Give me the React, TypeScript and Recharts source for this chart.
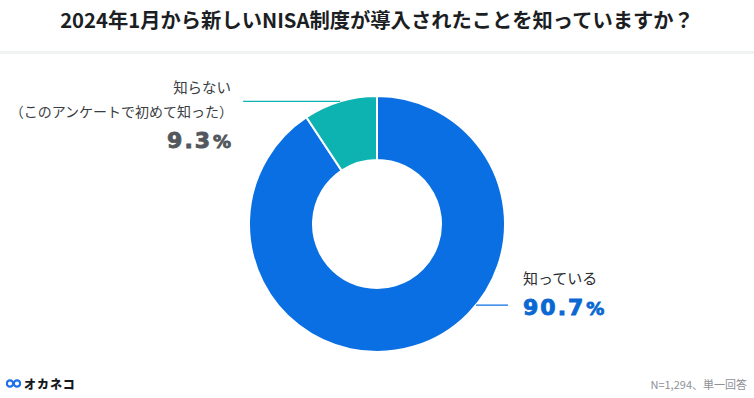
import React from "react";
import { PieChart, Pie, Cell } from "recharts";

const categories = ["知っている", "知らない"];
const subLabels = ["", "（このアンケートで初めて知った）"];
const values = [90.7, 9.3];
const colors = ["#0A6FE2", "#0DB3B1"];
const pctColors = ["#0B68D2", "#52575D"];

const title = "2024年1月から新しいNISA制度が導入されたことを知っていますか？";
const note = "N=1,294、単一回答";

const data = categories.map((name, i) => ({ name, value: values[i], sub: subLabels[i] }));

const RADIAN = Math.PI / 180;
const JP = '"Noto Sans CJK JP", "Noto Sans", sans-serif';
const NUM = '"DejaVu Sans", sans-serif';

const Pct = ({ x, y, anchor, color, value }: any) => (
  <text
    x={x}
    y={y}
    textAnchor={anchor}
    fontFamily={NUM}
    style={{ fontWeight: 700 }}
    fill={color}
    stroke={color}
    strokeWidth={0.9}
  >
    <tspan fontSize={22} letterSpacing={2}>{value.toFixed(1)}</tspan>
    <tspan fontSize={18} dx={1}>%</tspan>
  </text>
);

const renderLabel = (props: any) => {
  const { cx, cy, midAngle, outerRadius, index, value } = props;
  if (index === 1) {
    const x = cx + outerRadius * Math.cos(-midAngle * RADIAN);
    const y = cy + outerRadius * Math.sin(-midAngle * RADIAN);
    const x2 = x - 97;
    const tx = x2 - 12;
    return (
      <g>
        <line x1={x} y1={y} x2={x2} y2={y} stroke={colors[1]} strokeWidth={1.2} />
        <text x={tx} y={y - 8} textAnchor="end" fontFamily={JP} fontSize={14.5} fill="#3a3d42">
          {data[index].name}
        </text>
        <text x={tx + 2} y={y + 16} textAnchor="end" fontFamily={JP} fontSize={14} fill="#3a3d42">
          {data[index].sub}
        </text>
        <Pct x={tx} y={y + 47} anchor="end" color={pctColors[1]} value={value} />
      </g>
    );
  }
  const ang = -39.3;
  const x = cx + outerRadius * Math.cos(ang * RADIAN);
  const y = cy - outerRadius * Math.sin(ang * RADIAN);
  const x2 = x + 32;
  const tx = x2 + 15;
  return (
    <g>
      <line x1={x} y1={y} x2={x2} y2={y} stroke={colors[0]} strokeWidth={1.2} />
      <text x={tx} y={y - 21} textAnchor="start" fontFamily={JP} fontSize={15} fill="#2a2d32">
        {data[index].name}
      </text>
      <Pct x={tx} y={y + 10} anchor="start" color={pctColors[0]} value={value} />
    </g>
  );
};

export default function App() {
  return (
    <div style={{ position: "fixed", left: 0, top: 0, width: 754, height: 398, background: "#fff", overflow: "hidden" }}>
      <div
        style={{
          position: "absolute",
          left: 0,
          top: 3,
          width: 754,
          textAlign: "center",
          fontFamily: JP,
          fontWeight: 700,
          fontSize: 20.3,
          color: "#1b1e23",
          lineHeight: "32px",
        }}
      >
        {title}
      </div>
      <div style={{ position: "absolute", left: 0, top: 51, width: 754, height: 3, background: "#F1F2F2" }} />
      <PieChart
        width={754}
        height={398}
        margin={{ top: 0, right: 0, bottom: 0, left: 0 }}
        style={{ position: "absolute", left: 0, top: 0 }}
      >
        <Pie
          data={data}
          dataKey="value"
          nameKey="name"
          cx={377}
          cy={224}
          innerRadius={64}
          outerRadius={128}
          startAngle={90}
          endAngle={-270}
          stroke="#ffffff"
          strokeWidth={2}
          label={renderLabel}
          labelLine={false}
          isAnimationActive={false}
        >
          {data.map((d, i) => (
            <Cell key={d.name} fill={colors[i]} />
          ))}
        </Pie>
      </PieChart>
      <div style={{ position: "absolute", left: 6, top: 376, display: "flex", alignItems: "center", height: 14 }}>
        <svg width={15} height={9} style={{ marginRight: 3 }}>
          <circle cx={4} cy={4.5} r={3.2} fill="none" stroke="#1E6FE8" strokeWidth={2.2} />
          <circle cx={11} cy={4.5} r={3.2} fill="none" stroke="#1E6FE8" strokeWidth={2.2} />
        </svg>
        <span style={{ fontFamily: JP, fontWeight: 900, fontSize: 12, color: "#15181c", letterSpacing: 1 }}>オカネコ</span>
      </div>
      <div
        style={{
          position: "absolute",
          right: 7,
          top: 376,
          fontFamily: JP,
          fontSize: 11,
          color: "#8d9095",
          lineHeight: "16px",
        }}
      >
        {note}
      </div>
    </div>
  );
}
